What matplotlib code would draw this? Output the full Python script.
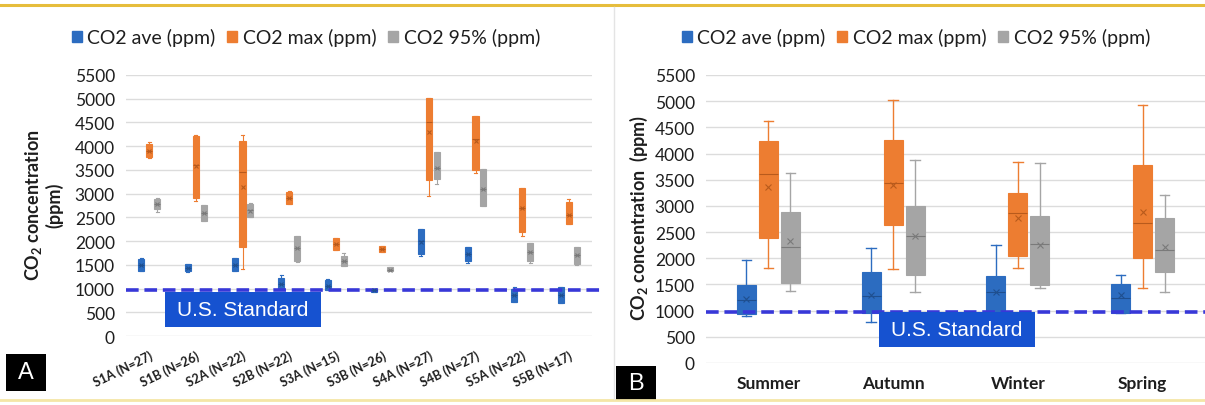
import matplotlib
matplotlib.use('Agg')
from matplotlib import pyplot as plt
from matplotlib.patches import Patch, Rectangle
from matplotlib.lines import Line2D

plt.rcParams['font.family'] = ['Lato', 'DejaVu Sans']
plt.rcParams['mathtext.fontset'] = 'custom'
plt.rcParams['mathtext.rm'] = 'Lato:bold'

# each entry: (whisker low, q1, median, q3, whisker high, mean)
sites = ['S1A (N=27)', 'S1B (N=26)', 'S2A (N=22)', 'S2B (N=22)', 'S3A (N=15)',
         'S3B (N=26)', 'S4A (N=27)', 'S4B (N=27)', 'S5A (N=22)', 'S5B (N=17)']
site_ave = [(1360, 1380, 1500, 1620, 1650, 1500), (1350, 1370, 1440, 1510, 1520, 1440),
            (1360, 1360, 1500, 1640, 1650, 1500), (980, 980, 1100, 1220, 1280, 1100),
            (960, 960, 1060, 1170, 1210, 1060), (930, 930, 960, 1000, 1000, 960),
            (1680, 1730, 2000, 2260, 2260, 1980), (1540, 1590, 1730, 1870, 1870, 1730),
            (710, 720, 870, 1000, 1030, 860), (700, 700, 860, 1030, 1030, 860)]
site_max = [(3760, 3780, 3900, 4050, 4080, 3900), (2850, 2900, 3600, 4220, 4230, 3580),
            (1420, 1870, 3450, 4100, 4240, 3150), (2780, 2790, 2900, 3040, 3060, 2900),
            (1820, 1820, 1930, 2060, 2070, 1930), (1780, 1780, 1840, 1890, 1890, 1840),
            (2960, 3280, 4500, 5020, 5020, 4300), (3430, 3490, 4150, 4630, 4630, 4100),
            (2100, 2190, 2700, 3120, 3120, 2700), (2360, 2360, 2560, 2820, 2890, 2560)]
site_p95 = [(2610, 2680, 2780, 2890, 2900, 2780), (2430, 2430, 2600, 2760, 2770, 2600),
            (2500, 2500, 2650, 2790, 2800, 2640), (1560, 1590, 1850, 2100, 2100, 1850),
            (1470, 1470, 1580, 1680, 1750, 1580), (1360, 1360, 1400, 1450, 1450, 1400),
            (3200, 3300, 3550, 3870, 3870, 3550), (2740, 2740, 3100, 3520, 3520, 3100),
            (1540, 1590, 1770, 1960, 1960, 1770), (1490, 1520, 1700, 1870, 1870, 1700)]

seasons = ['Summer', 'Autumn', 'Winter', 'Spring']
season_ave = [(890, 930, 1200, 1490, 1970, 1230), (790, 950, 1270, 1730, 2200, 1300),
              (980, 980, 1350, 1670, 2250, 1360), (950, 950, 1250, 1500, 1680, 1300)]
season_max = [(1820, 2380, 3600, 4240, 4620, 3360), (1790, 2630, 3430, 4250, 5030, 3390),
              (1820, 2040, 2870, 3250, 3830, 2760), (1430, 2010, 2680, 3790, 4930, 2890)]
season_p95 = [(1380, 1520, 2220, 2890, 3630, 2330), (1360, 1690, 2430, 3000, 3880, 2430),
              (1430, 1490, 2270, 2800, 3810, 2250), (1360, 1730, 2160, 2770, 3200, 2220)]

us_standard = 975
series_names = ['CO2 ave (ppm)', 'CO2 max (ppm)', 'CO2 95% (ppm)']
colors = ['#2c6cc0', '#ed7d31', '#a5a5a5']
dark = ['#1f4f8f', '#b85a1c', '#7a7a7a']

W, H = 1205, 406
fig = plt.figure(figsize=(W / 100, H / 100), dpi=100)


def px_axes(x0, y0, x1, y1):
    return fig.add_axes([x0 / W, 1 - y1 / H, (x1 - x0) / W, (y1 - y0) / H])


def stats_of(rows):
    return [dict(whislo=r[0], q1=r[1], med=r[2], q3=r[3], whishi=r[4], mean=r[5], fliers=[])
            for r in rows]


def draw_panel(ax, labels, groups, offset, width, lw):
    for k, rows in enumerate(groups):
        pos = [i + (k - 1) * offset for i in range(len(labels))]
        ax.bxp(stats_of(rows), positions=pos, widths=width, patch_artist=True,
               showmeans=True, manage_ticks=False,
               boxprops=dict(facecolor=colors[k], edgecolor=colors[k], linewidth=0.8),
               whiskerprops=dict(color=colors[k], linewidth=lw),
               capprops=dict(color=colors[k], linewidth=lw),
               medianprops=dict(color=dark[k], linewidth=0.8),
               meanprops=dict(marker='x', markeredgecolor=dark[k], markersize=5 if lw > 0.8 else 3,
                              markeredgewidth=0.8))
    ax.set_xlim(-0.5, len(labels) - 0.5)
    ax.set_ylim(0, 5500)
    ax.set_yticks(range(0, 5501, 500))
    ax.set_xticks(range(len(labels)))
    ax.grid(axis='y', color='#dcdcdc', linewidth=1)
    ax.set_axisbelow(True)
    for s in ax.spines.values():
        s.set_visible(False)
    ax.tick_params(length=0)
    ax.tick_params(axis='y', labelsize=12.5, pad=8, labelcolor='#1e1e1e')


# panel A: sites
axA = px_axes(126, 76, 592, 337)
draw_panel(axA, sites, [site_ave, site_max, site_p95], 0.17, 0.13, 0.8)
axA.set_xticklabels(sites, rotation=26, ha='right', rotation_mode='anchor',
                    fontsize=9, fontweight='bold', color='#1e1e1e')
axA.tick_params(axis='x', pad=9)
axA.axhline(us_standard, xmin=0, xmax=1.02, clip_on=False, color='#3838d8', linewidth=2.6,
            linestyle=(0, (3.5, 1.6)))

# panel B: seasons
axB = px_axes(706, 76, 1205, 364)
draw_panel(axB, seasons, [season_ave, season_max, season_p95], 0.177, 0.153, 1.0)
axB.set_xticklabels(seasons, fontsize=12.5, fontweight='bold', color='#1e1e1e')
axB.tick_params(axis='x', pad=9)
axB.axhline(us_standard, color='#3838d8', linewidth=2.6, linestyle=(0, (3.5, 1.6)))

# y axis titles
fig.text(43 / W, 1 - 205 / H, 'CO$_2$ concentration\n(ppm)', rotation=90, ha='center',
         va='center', fontsize=13, fontweight='bold', linespacing=1.1, color='#1e1e1e')
fig.text(639 / W, 1 - 218 / H, 'CO$_2$ concentration  (ppm)', rotation=90, ha='center',
         va='center', fontsize=13, fontweight='bold', color='#1e1e1e')

# legends
handles = [Patch(facecolor=c, edgecolor=c) for c in colors]
for cx in (306, 916):
    fig.legend(handles, series_names, loc='center', bbox_to_anchor=(cx / W, 1 - 38 / H),
               ncol=3, frameon=False, fontsize=14, handlelength=0.5, handleheight=0.5,
               handletextpad=0.3, columnspacing=0.6, labelcolor='#1e1e1e')

# "U.S. Standard" tags
for x0, y0, x1, y1 in ((165, 293, 321, 328), (879, 313, 1035, 348)):
    fig.add_artist(Rectangle((x0 / W, 1 - y1 / H), (x1 - x0) / W, (y1 - y0) / H,
                             transform=fig.transFigure, facecolor='#1652d0', edgecolor='none'))
    fig.text((x0 + x1) / 2 / W, 1 - (y0 + y1) / 2 / H, 'U.S. Standard', ha='center',
             va='center', fontsize=15, color='white', family='Liberation Sans')

# panel letters
for letter, (x0, y0, x1, y1) in (('A', (6, 355, 46, 392)), ('B', (616, 367, 656, 402))):
    fig.add_artist(Rectangle((x0 / W, 1 - y1 / H), (x1 - x0) / W, (y1 - y0) / H,
                             transform=fig.transFigure, facecolor='black', edgecolor='none'))
    fig.text((x0 + x1) / 2 / W, 1 - (y0 + y1) / 2 / H, letter, ha='center', va='center',
             fontsize=17, color='white', family='Liberation Sans')

# frame lines
fig.add_artist(Line2D([0, 1], [1 - 6 / H, 1 - 6 / H], transform=fig.transFigure,
                      color='#e6bd3c', linewidth=2.2))
fig.add_artist(Line2D([0, 1], [1 - 401 / H, 1 - 401 / H], transform=fig.transFigure,
                      color='#f4e6a6', linewidth=2))
fig.add_artist(Line2D([614 / W, 614 / W], [1 - 400 / H, 1 - 8 / H], transform=fig.transFigure,
                      color='#e4e4e4', linewidth=1))

fig.savefig('out.png', dpi=100)
